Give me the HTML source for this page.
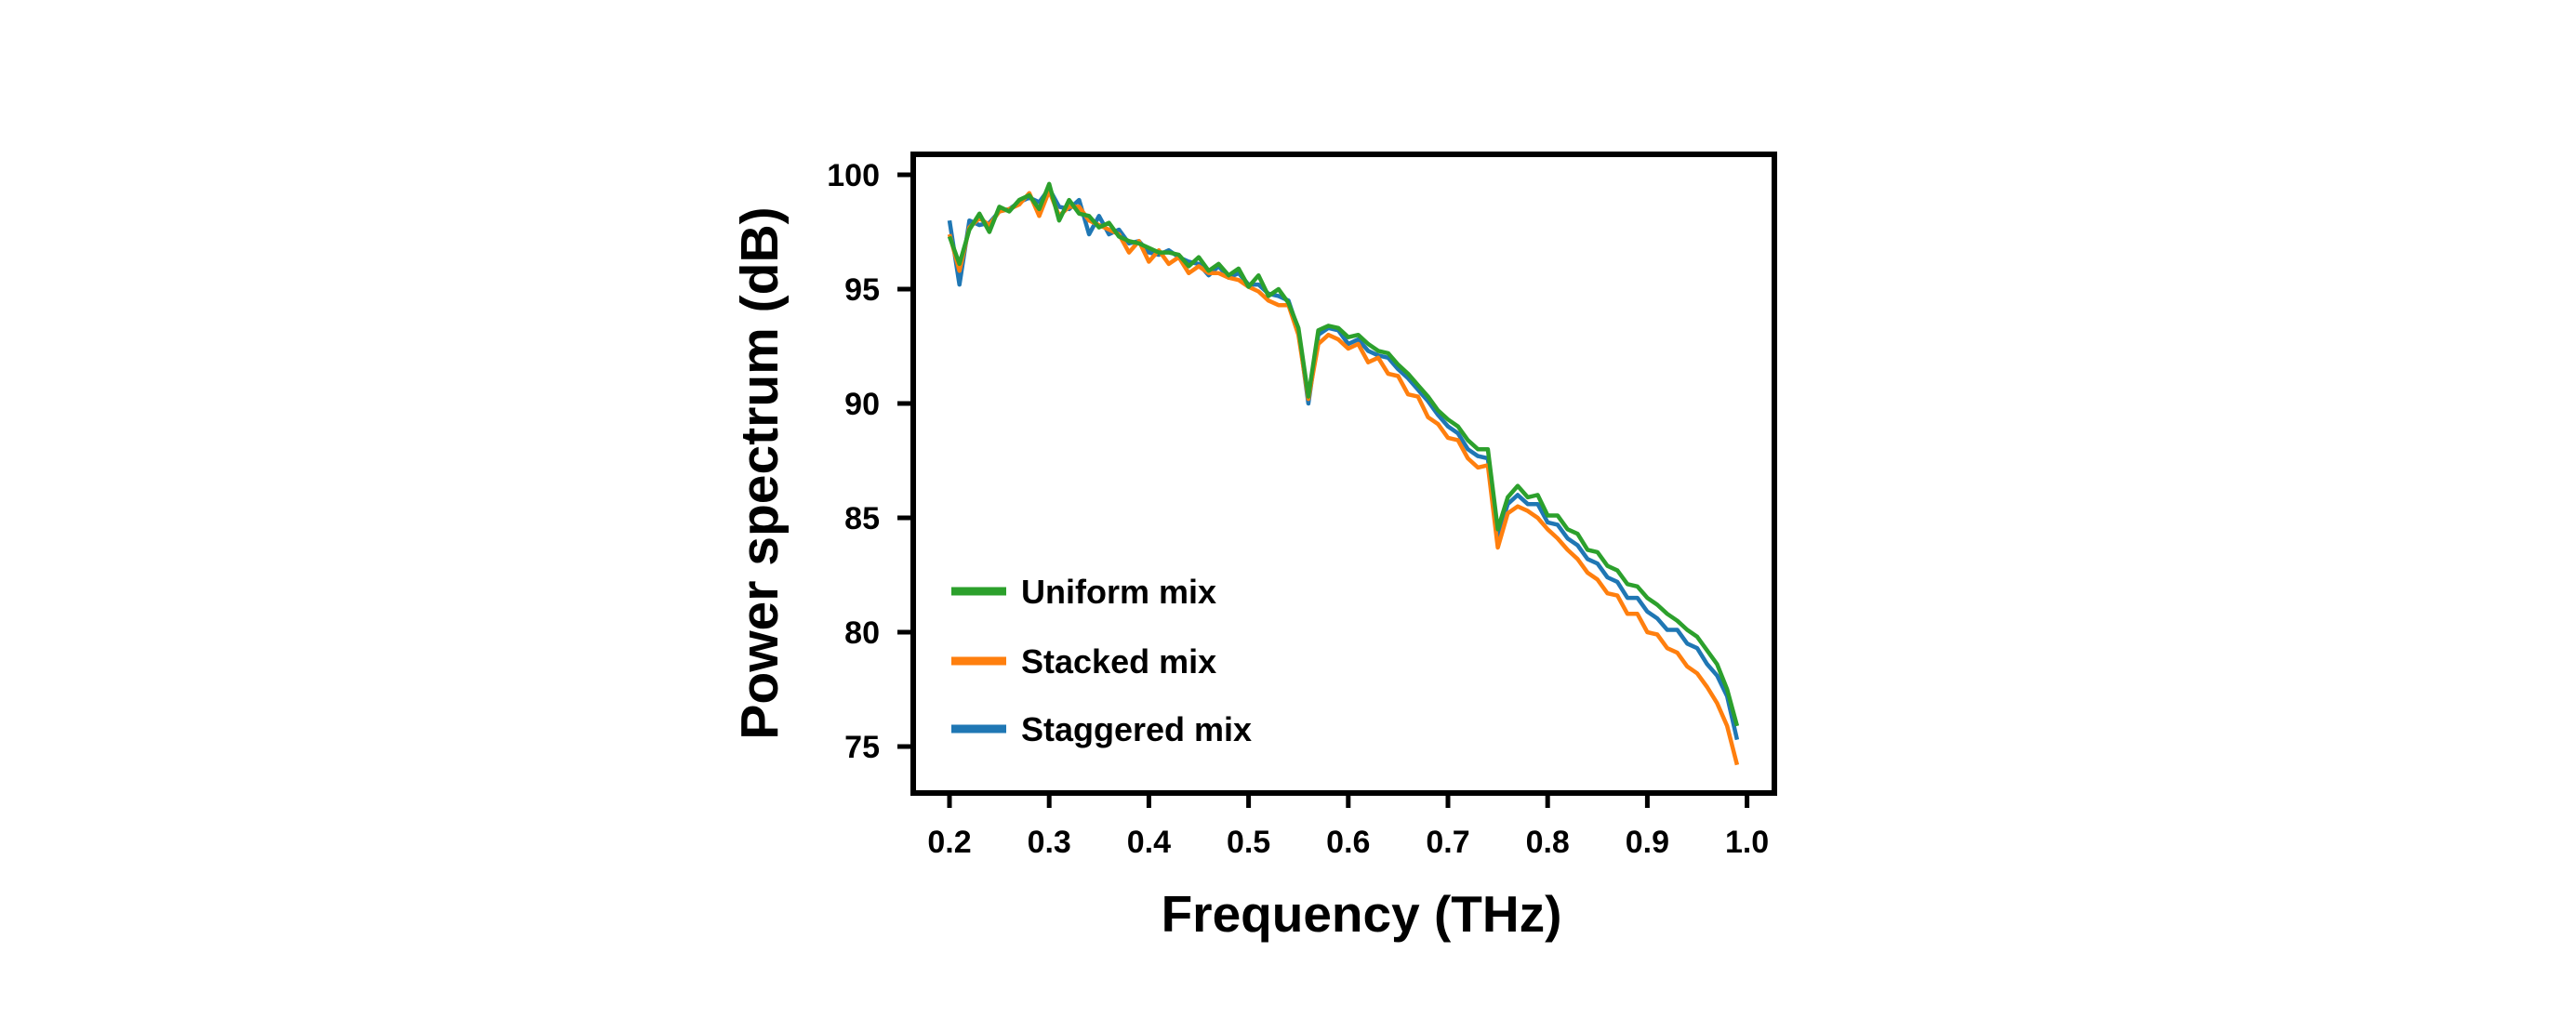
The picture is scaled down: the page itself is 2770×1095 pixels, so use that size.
<!DOCTYPE html>
<html><head><meta charset="utf-8"><style>
html,body{margin:0;padding:0;background:#fff;}
svg text{font-family:"Liberation Sans",Arial,sans-serif;font-weight:bold;fill:#000;}
</style></head><body>
<svg id="chart" width="2770" height="1090" viewBox="0 0 2770 1090" xmlns="http://www.w3.org/2000/svg">
<g id="plot"></g>
</svg>
<script>
const freqStart = 0.20, freqStep = 0.01;
const uniformMix = [97.3,96.1,97.6,98.3,97.5,98.6,98.4,98.9,99.1,98.5,99.6,98.0,98.9,98.3,98.2,97.7,97.9,97.3,97.1,97.0,96.8,96.6,96.6,96.5,96.0,96.4,95.8,96.1,95.6,95.9,95.1,95.6,94.7,95.0,94.4,93.3,90.3,93.2,93.4,93.3,92.9,93.0,92.6,92.3,92.2,91.7,91.3,90.8,90.3,89.7,89.3,89.0,88.4,88.0,88.0,84.5,85.9,86.4,85.9,86.0,85.1,85.1,84.5,84.3,83.6,83.5,82.9,82.7,82.1,82.0,81.5,81.2,80.8,80.5,80.1,79.8,79.2,78.6,77.5,75.9];
const stackedMix = [97.4,95.8,97.7,98.1,97.8,98.4,98.5,98.7,99.2,98.2,99.3,98.2,98.6,98.6,98.0,97.8,97.6,97.4,96.6,97.1,96.2,96.7,96.1,96.4,95.7,96.0,95.7,95.7,95.5,95.4,95.1,94.9,94.5,94.3,94.3,93.0,90.2,92.6,93.0,92.8,92.4,92.6,91.8,92.0,91.3,91.2,90.4,90.3,89.4,89.1,88.5,88.4,87.6,87.2,87.3,83.7,85.2,85.5,85.3,85.0,84.5,84.1,83.6,83.2,82.6,82.3,81.7,81.6,80.8,80.8,80.0,79.9,79.3,79.1,78.5,78.2,77.6,76.9,75.9,74.2];
const staggeredMix = [98.0,95.2,98.0,97.8,97.9,98.4,98.5,98.8,99.0,98.8,99.4,98.6,98.5,98.9,97.4,98.2,97.4,97.6,97.0,97.1,96.6,96.5,96.7,96.4,96.2,96.1,95.6,96.0,95.5,95.7,95.2,95.2,94.8,94.7,94.5,93.2,90.0,93.0,93.3,93.2,92.6,92.8,92.3,92.1,92.0,91.5,91.1,90.6,90.1,89.5,89.0,88.7,88.0,87.7,87.6,84.2,85.6,86.0,85.6,85.6,84.8,84.7,84.1,83.8,83.2,83.0,82.4,82.2,81.5,81.5,80.9,80.6,80.1,80.1,79.5,79.3,78.6,78.1,77.2,75.3];
const xTicks = [0.2,0.3,0.4,0.5,0.6,0.7,0.8,0.9,1.0];
const xTickLabels = ["0.2","0.3","0.4","0.5","0.6","0.7","0.8","0.9","1.0"];
const yTicks = [75,80,85,90,95,100];
const yTickLabels = ["75","80","85","90","95","100"];
const seriesNames = ["Uniform mix","Stacked mix","Staggered mix"];
const seriesColors = ["#2ca02c","#ff7f0e","#1f77b4"];

const NS = "http://www.w3.org/2000/svg";
const L = 982, R = 1908, T = 166, B = 853;
function xs(f){ return 1021 + (f - 0.2) * 1072; }
function ys(v){ return 188 + (100 - v) * 24.6; }
const g = document.getElementById('plot');
function mk(tag, attrs, parent){
  const e = document.createElementNS(NS, tag);
  for (const k in attrs) e.setAttribute(k, attrs[k]);
  (parent || g).appendChild(e);
  return e;
}
const order = [2,1,0];
const dataSets = [uniformMix, stackedMix, staggeredMix];
const seriesKeys = ["uniform-mix-line","stacked-mix-line","staggered-mix-line"];
order.forEach(i => {
  const d = dataSets[i].map((v,k) => (k ? 'L' : 'M') + xs(freqStart + k*freqStep).toFixed(1) + ',' + ys(v).toFixed(1)).join(' ');
  const p = mk('path', {d: d, fill: 'none', stroke: seriesColors[i], 'stroke-width': 4.5, 'stroke-linejoin': 'round'});
  
  
});
const frame = mk('rect', {x: L, y: T, width: R-L, height: B-T, fill: 'none', stroke: '#000', 'stroke-width': 6});


xTicks.forEach((t,i) => {
  const x = xs(t);
  const tk = mk('line', {x1: x, x2: x, y1: B+3, y2: B+16, stroke: '#000', 'stroke-width': 5});
  
  
  const tx = mk('text', {x: x, y: 917, 'font-size': 34, 'text-anchor': 'middle'});
  tx.textContent = xTickLabels[i];
  
  
});
yTicks.forEach((t,i) => {
  const y = ys(t);
  const tk = mk('line', {x1: L-3, x2: L-17, y1: y, y2: y, stroke: '#000', 'stroke-width': 5});
  
  
  const tx = mk('text', {x: 946, y: y + 12, 'font-size': 34, 'text-anchor': 'end'});
  tx.textContent = yTickLabels[i];
  
  
});
const xt = mk('text', {x: 1464, y: 1002, 'font-size': 55, 'text-anchor': 'middle'});
xt.textContent = 'Frequency (THz)';


const yt = mk('text', {x: 0, y: 0, 'font-size': 57, 'text-anchor': 'middle', transform: 'translate(836,509) rotate(-90)'});
yt.textContent = 'Power spectrum (dB)';


const lg = mk('g', {});


const legendY = [636, 711, 784];
[0,1,2].forEach(i => {
  const eg = mk('g', {}, lg);
  
  
  mk('line', {x1: 1023, x2: 1082, y1: legendY[i], y2: legendY[i], stroke: seriesColors[i], 'stroke-width': 9}, eg);
  const t = mk('text', {x: 1098, y: legendY[i] + 13, 'font-size': 36}, eg);
  t.textContent = seriesNames[i];
});
</script>
</body></html>
